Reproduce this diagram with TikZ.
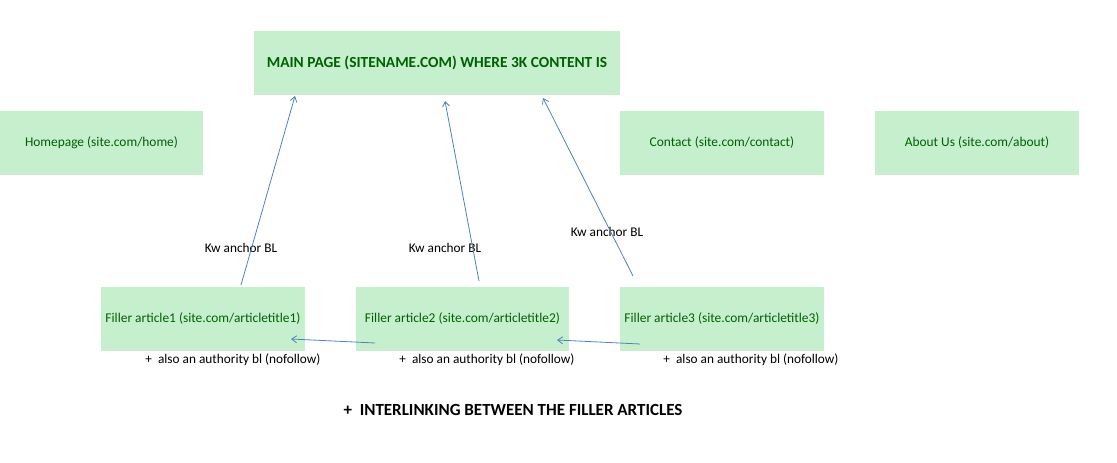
\documentclass[tikz,border=0pt]{standalone}
\usepackage{fontspec}
\setmainfont{Carlito}
\usetikzlibrary{arrows.meta}
\definecolor{boxfill}{HTML}{C6EFCE}
\definecolor{boxtext}{HTML}{006100}
\definecolor{arrowblue}{HTML}{4F81BD}
\begin{document}
\begin{tikzpicture}[x=1pt,y=-1pt,
  box/.style={fill=boxfill,draw=none,inner sep=0pt,text=boxtext,font=\fontsize{13.4}{16}\selectfont},
  lbl/.style={inner sep=0pt,text=black,font=\fontsize{13.3}{16}\selectfont},
  link/.style={draw=arrowblue,line width=0.8pt,-{Straight Barb[length=5pt,width=7pt]}}]
\useasboundingbox (0,0) rectangle (1117,463);
\node[box,minimum width=366pt,minimum height=64pt,font=\fontsize{15.4}{18}\selectfont\bfseries] (main) at (437,63) {MAIN PAGE (SITENAME.COM) WHERE 3K CONTENT IS};
\node[box,minimum width=203pt,minimum height=64pt] (home) at (101.5,143) {Homepage (site.com/home)};
\node[box,minimum width=204pt,minimum height=64pt] (contact) at (722,143) {Contact (site.com/contact)};
\node[box,minimum width=204pt,minimum height=64pt] (about) at (977,143) {About Us (site.com/about)};
\node[box,minimum width=204pt,minimum height=64pt] (f1) at (203,319) {Filler article1 (site.com/articletitle1)};
\node[box,minimum width=213pt,minimum height=64pt] (f2) at (462.5,319) {Filler article2 (site.com/articletitle2)};
\node[box,minimum width=204pt,minimum height=64pt] (f3) at (722,319) {Filler article3 (site.com/articletitle3)};
\node[lbl] (k1) at (241,248) {Kw anchor BL};
\node[lbl] (k2) at (445,248) {Kw anchor BL};
\node[lbl] (k3) at (607,232) {Kw anchor BL};
\node[lbl] (a1) at (233,360) {+ \ also an authority bl (nofollow)};
\node[lbl] (a2) at (487,360) {+ \ also an authority bl (nofollow)};
\node[lbl] (a3) at (751,360) {+ \ also an authority bl (nofollow)};
\node[lbl,font=\fontsize{17}{20}\selectfont\bfseries] (inter) at (513,410) {+ \ INTERLINKING BETWEEN THE FILLER ARTICLES};
\coordinate (s1) at (241,285);
\coordinate (e1) at (295,96);
\coordinate (s2) at (479,281);
\coordinate (e2) at (445,101);
\coordinate (s3) at (633,276);
\coordinate (e3) at (543,98);
\coordinate (s4) at (375,343);
\coordinate (e4) at (291,339);
\coordinate (s5) at (640,344);
\coordinate (e5) at (557,340);
\draw[link] (s1) -- (e1);
\draw[link] (s2) -- (e2);
\draw[link] (s3) -- (e3);
\draw[link] (s4) -- (e4);
\draw[link] (s5) -- (e5);
\end{tikzpicture}
\end{document}
